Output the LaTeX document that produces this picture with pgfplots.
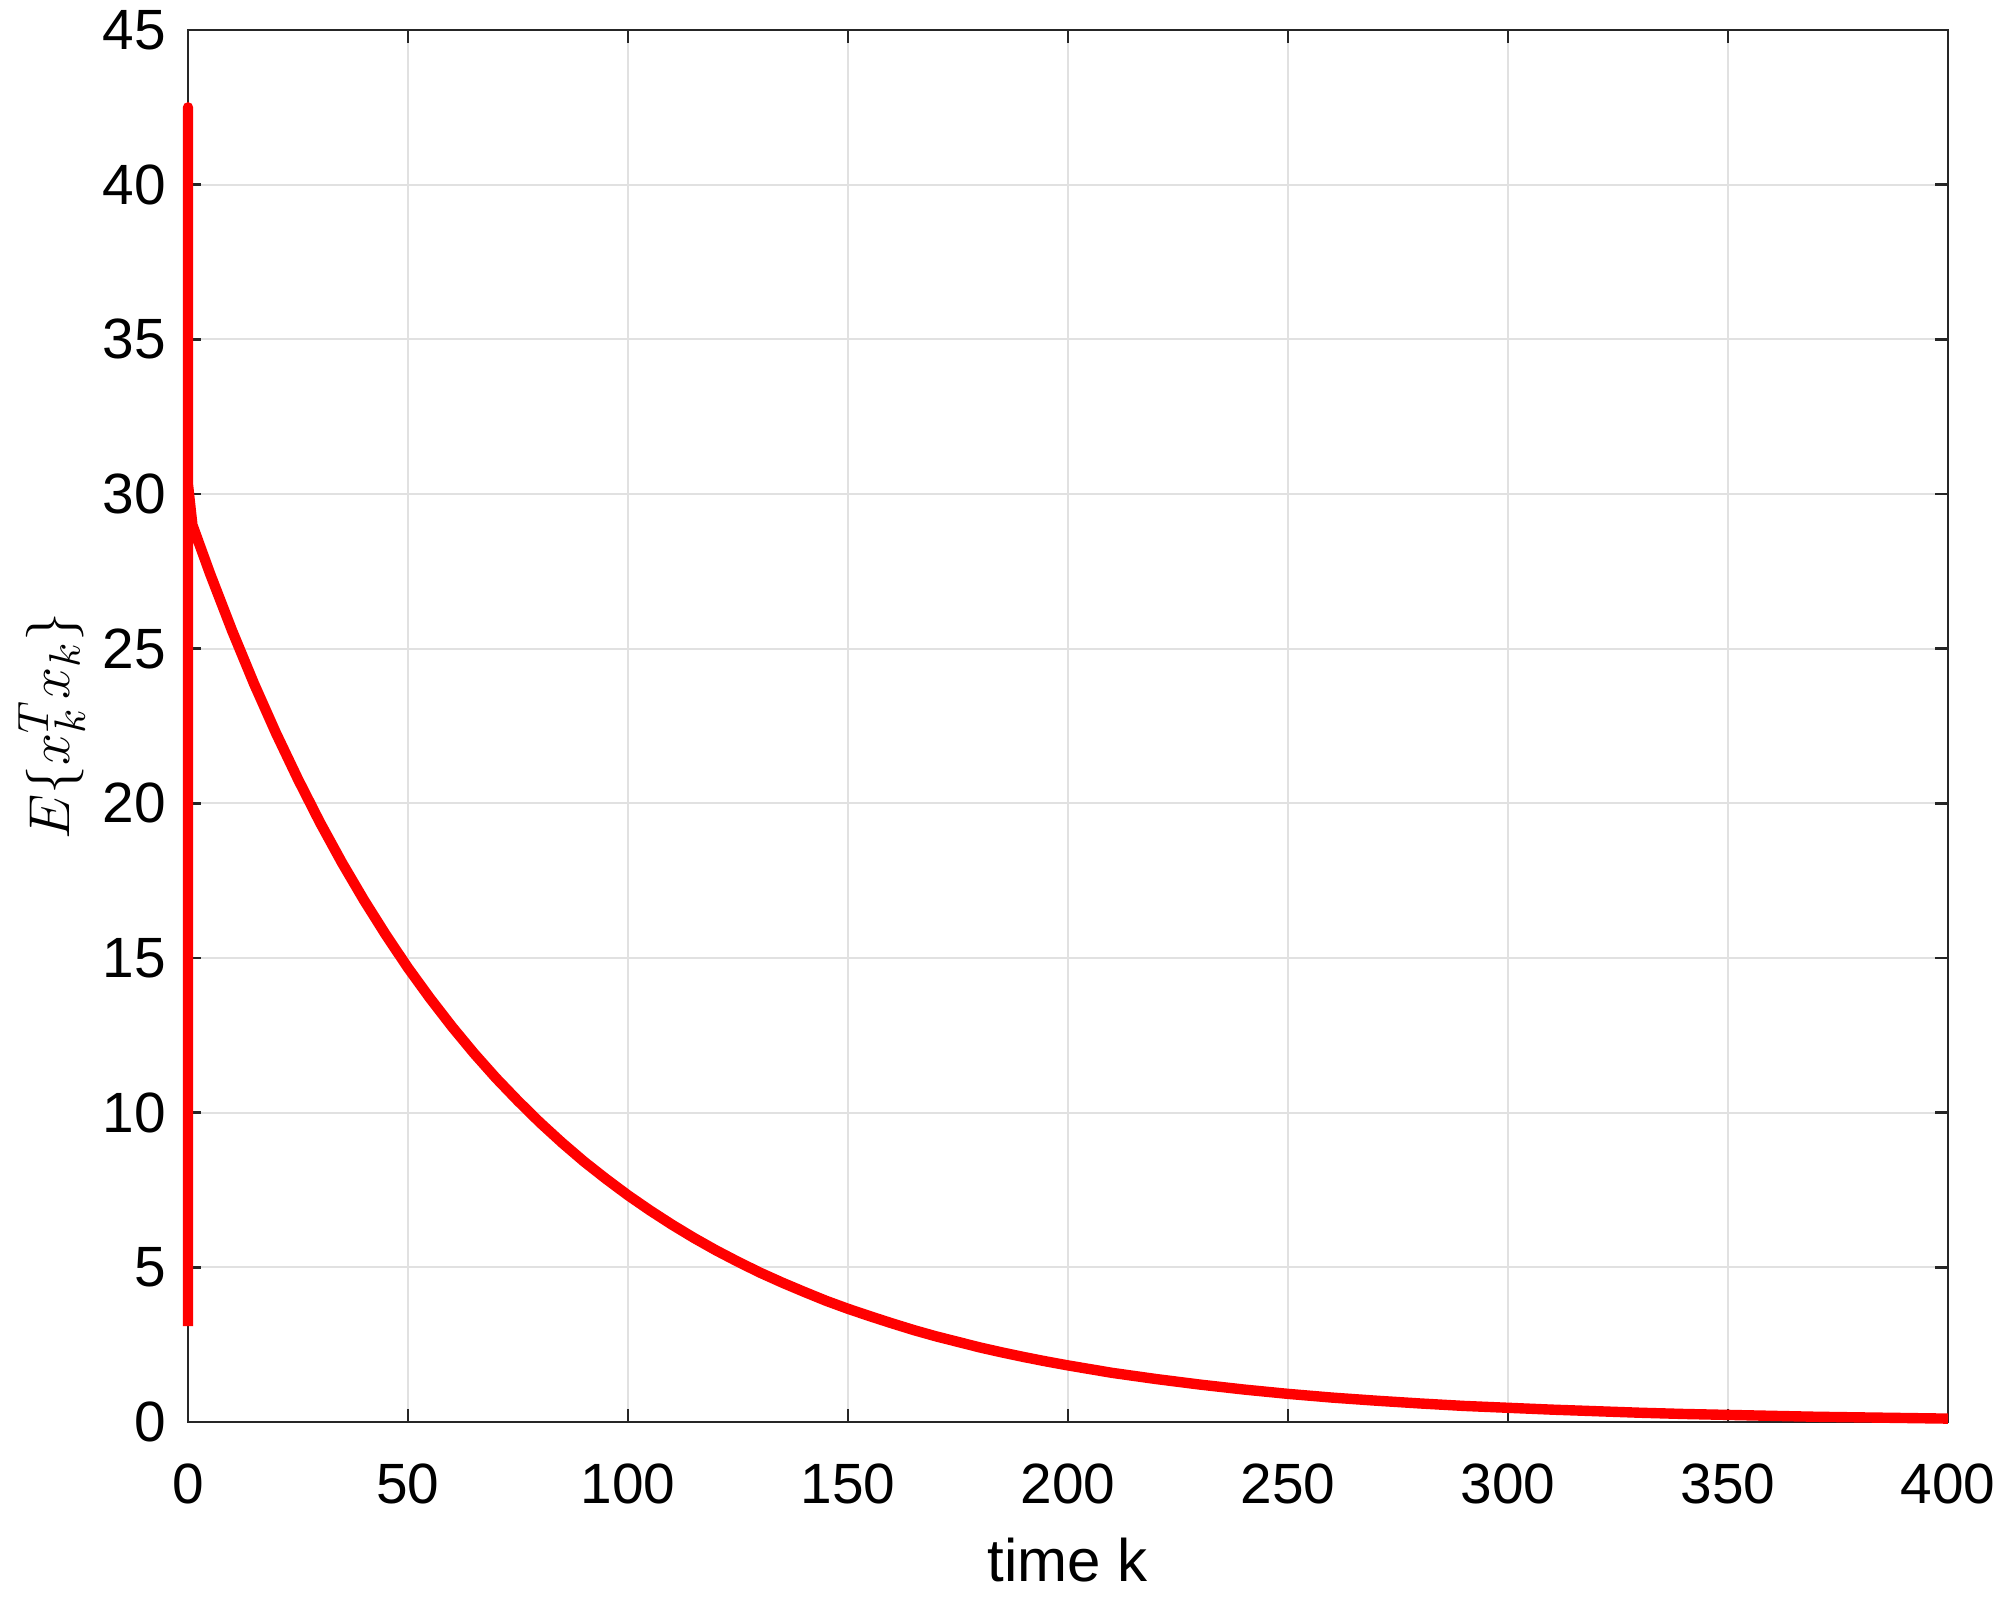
\documentclass[border=0pt]{standalone}
\usepackage{pgfplots}
\pgfplotsset{compat=1.18}
\usepackage{fontspec}
\setmainfont{Liberation Sans}
\definecolor{axgray}{RGB}{38,38,38}
\definecolor{gridgray}{RGB}{225,225,225}
\begin{document}
\begin{tikzpicture}
\useasboundingbox (-47pt,-44.5pt) rectangle (453pt,355.5pt);
\begin{axis}[
  at={(0,0)}, anchor=south west,
  scale only axis,
  width=440pt, height=348pt,
  xmin=0, xmax=400, ymin=0, ymax=45,
  xtick={0,50,...,400}, ytick={0,5,...,45},
  grid=major,
  major grid style={gridgray, line width=0.5pt},
  axis line style={axgray, line width=0.6pt},
  tick style={axgray, line width=0.6pt},
  tick align=inside,
  major tick length=3.3pt,
  xtick pos=both, ytick pos=both,
  /pgf/number format/assume math mode=true,
  tick label style={font=\fontsize{14.2}{16}\selectfont, black},
  xticklabel style={yshift=-7pt},
  yticklabel style={xshift=-2pt},
  xlabel={time k},
  xlabel style={font=\fontsize{15}{17}\selectfont, at={(axis description cs:0.5,-0.1146)}, anchor=base},
  ylabel={$E\{x_k^Tx_k\}$},
  ylabel style={font=\fontsize{15}{17}\selectfont, at={(axis description cs:-0.0775,0.5)}, anchor=center, rotate=0},
  clip=false,
]
\addplot[red, line width=2.6pt, line join=round] coordinates {
(0,3.1) (0,42.5) (0,30.3) (1,29.0) (5,27.43) (10,25.59) (15,23.87) (20,22.27) (25,20.78)
(30,19.38) (35,18.08) (40,16.87) (45,15.74) (50,14.68) (55,13.70) (60,12.78) (65,11.92)
(70,11.12) (75,10.38) (80,9.68) (85,9.03) (90,8.42) (95,7.86)
(100,7.33) (105,6.84) (110,6.38) (115,5.95) (120,5.55) (125,5.18) (130,4.83) (135,4.51)
(140,4.21) (145,3.92) (150,3.66) (155,3.42) (160,3.19) (165,2.97) (170,2.77) (175,2.59)
(180,2.41) (185,2.25) (190,2.10) (195,1.96) (200,1.83)
(210,1.59) (220,1.39) (230,1.21) (240,1.05) (250,0.91)
(260,0.79) (270,0.69) (280,0.60) (290,0.52) (300,0.46)
(310,0.40) (320,0.35) (330,0.30) (340,0.26) (350,0.23)
(360,0.20) (370,0.17) (380,0.15) (390,0.13) (400,0.11)
};
\end{axis}
\end{tikzpicture}
\end{document}
